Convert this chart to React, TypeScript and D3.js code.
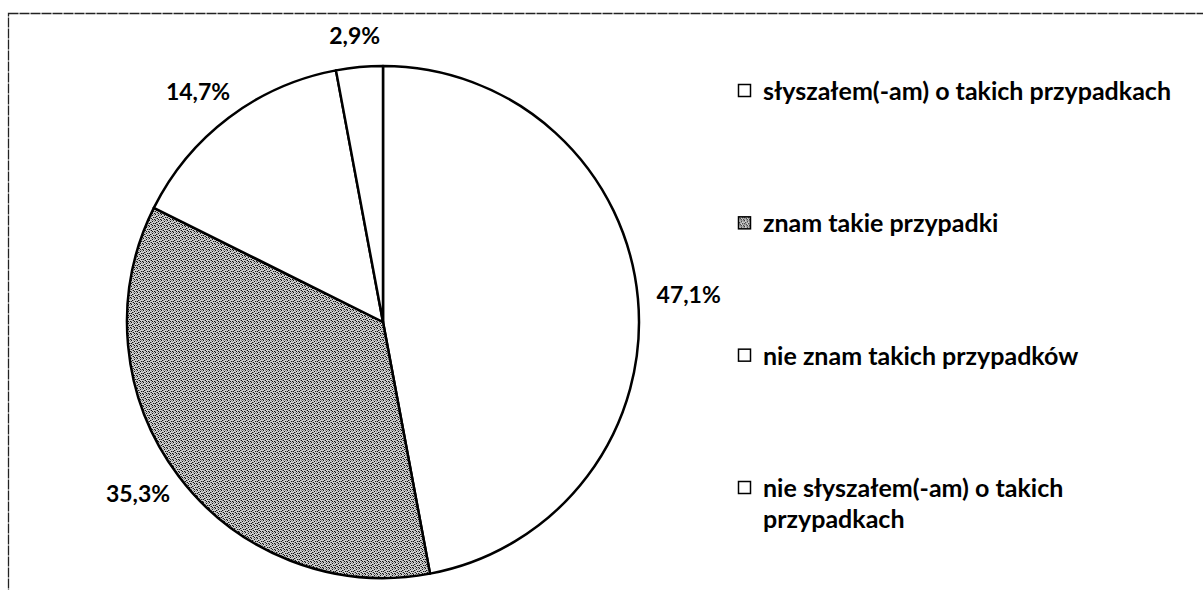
import React, { useEffect, useRef } from 'react'
import * as d3 from 'd3'

// chart data
const categories = [
  'słyszałem(-am) o takich przypadkach',
  'znam takie przypadki',
  'nie znam takich przypadków',
  'nie słyszałem(-am) o takich przypadkach',
]
const counts = [16, 12, 5, 1]
const percentLabels = ['47,1%', '35,3%', '14,7%', '2,9%']
const legendLines = [
  ['słyszałem(-am) o takich przypadkach'],
  ['znam takie przypadki'],
  ['nie znam takich przypadków'],
  ['nie słyszałem(-am) o takich', 'przypadkach'],
]
const shaded = [false, true, false, false]

const W = 1203
const H = 590
const FONT = 'Lato, "Open Sans", sans-serif'

const App = () => {
  const ref = useRef<SVGSVGElement>(null)

  useEffect(() => {
    const svg = d3.select(ref.current)
    svg.selectAll('*').remove()

    // stipple texture for the shaded slice
    const defs = svg.append('defs')
    const pat = defs.append('pattern')
      .attr('id', 'stipple')
      .attr('width', 6).attr('height', 6)
      .attr('patternUnits', 'userSpaceOnUse')
    pat.append('rect').attr('width', 6).attr('height', 6).attr('fill', '#cfcfcf')
    const darkDots = [[0, 0], [3, 1], [1, 2], [4, 3], [2, 4], [5, 5], [0, 3], [3, 5]]
    const greyDots = [[2, 0], [5, 1], [0, 5], [4, 0], [2, 2], [5, 3], [1, 4]]
    pat.selectAll('.d').data(darkDots).enter().append('rect')
      .attr('x', d => d[0]).attr('y', d => d[1]).attr('width', 1).attr('height', 1).attr('fill', '#111')
    pat.selectAll('.g').data(greyDots).enter().append('rect')
      .attr('x', d => d[0]).attr('y', d => d[1]).attr('width', 1).attr('height', 1).attr('fill', '#8a8a8a')

    // outer frame
    svg.append('rect')
      .attr('x', 8.5).attr('y', 13.5)
      .attr('width', W + 20).attr('height', H + 20)
      .attr('fill', 'none')
      .attr('stroke', '#222')
      .attr('stroke-width', 1.3)
      .attr('stroke-dasharray', '10,1')

    const cx = 383, cy = 322, r = 256

    const pie = d3.pie<number>().sort(null).value(d => d)
    const arcs = pie(counts)
    const arc = d3.arc<d3.PieArcDatum<number>>().innerRadius(0).outerRadius(r)

    const g = svg.append('g').attr('transform', `translate(${cx},${cy})`)

    g.selectAll('path.slice')
      .data(arcs)
      .enter()
      .append('path')
      .attr('class', 'slice')
      .attr('d', arc)
      .attr('fill', (d, i) => shaded[i] ? 'url(#stipple)' : '#fff')
      .attr('stroke', '#000')
      .attr('stroke-width', 2.5)
      .attr('stroke-linejoin', 'round')

    // percentage labels just outside the pie (wider horizontally, like Excel's outside end)
    const rx = 307, ry = 287
    const mid = (d: d3.PieArcDatum<number>) => (d.startAngle + d.endAngle) / 2
    g.selectAll('text.pct')
      .data(arcs)
      .enter()
      .append('text')
      .attr('class', 'pct')
      .attr('x', d => Math.sin(mid(d)) * rx)
      .attr('y', d => -Math.cos(mid(d)) * ry + 7.5)
      .attr('text-anchor', 'middle')
      .attr('font-family', FONT)
      .attr('font-weight', 700)
      .attr('font-size', 23)
      .attr('fill', '#000')
      .text((d, i) => percentLabels[i])

    // legend
    const yLegend = d3.scaleLinear().domain([0, 3]).range([100, 497])
    const legend = svg.append('g')
    const items = legend.selectAll('g.item')
      .data(categories)
      .enter()
      .append('g')
      .attr('class', 'item')
      .attr('transform', (d, i) => `translate(738,${yLegend(i)})`)

    items.append('rect')
      .attr('x', 0.5).attr('y', -15.5)
      .attr('width', 12).attr('height', 12)
      .attr('fill', (d, i) => shaded[i] ? 'url(#stipple)' : '#fff')
      .attr('stroke', '#000')
      .attr('stroke-width', 1.5)

    items.each(function (d, i) {
      const t = d3.select(this).append('text')
        .attr('font-family', FONT)
        .attr('font-weight', 700)
        .attr('font-size', 25)
        .attr('fill', '#000')
      legendLines[i].forEach((line, j) => {
        t.append('tspan').attr('x', 25).attr('y', j * 31).text(line)
      })
    })
  }, [])

  return (
    <svg ref={ref} width={W} height={H}
      style={{ position: 'absolute', left: 0, top: 0, background: '#fff' }} />
  )
}

export default App
